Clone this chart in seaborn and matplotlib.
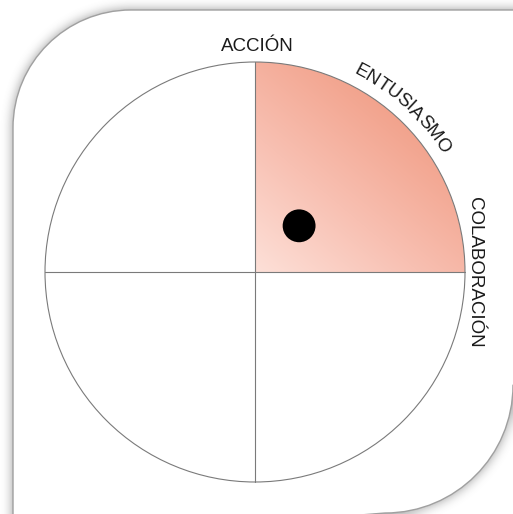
import numpy as np
import matplotlib
matplotlib.use("Agg")
import matplotlib.pyplot as plt
import seaborn as sns
from matplotlib.path import Path
from matplotlib.patches import Circle, Wedge, PathPatch
from matplotlib.colors import LinearSegmentedColormap

sns.set_style("white")
plt.rcParams["font.family"] = ["Liberation Sans", "DejaVu Sans"]

# data
labels = ["ACCIÓN", "ENTUSIASMO", "COLABORACIÓN"]
point_x = [0.21]
point_y = [0.22]
active_quadrant = (0, 90)   # degrees, top-right highlighted

W, H = 513, 514
cx, cy, R = 255, 272, 210   # circle centre / radius in pixels

fig = plt.figure(figsize=(W / 100, H / 100), dpi=100)

# ---- background card with shadow (pixel coords) ----
bg = fig.add_axes([0, 0, 1, 1])
bg.set_xlim(0, W)
bg.set_ylim(H, 0)
bg.axis("off")

def card_path(left=13, top=10, right=513, bottom=513, r1=118, r2=128):
    k = 0.5523
    verts = [(left, bottom + 30), (left, top + r1),
             (left, top + r1 - k * r1), (left + r1 - k * r1, top), (left + r1, top),
             (right + 30, top), (right + 30, bottom - r2),
             (right, bottom - r2),
             (right, bottom - r2 + k * r2), (right - r2 + k * r2, bottom), (right - r2, bottom),
             (left, bottom + 30), (left, bottom + 30)]
    codes = [Path.MOVETO, Path.LINETO,
             Path.CURVE4, Path.CURVE4, Path.CURVE4,
             Path.LINETO, Path.LINETO, Path.LINETO,
             Path.CURVE4, Path.CURVE4, Path.CURVE4,
             Path.LINETO, Path.CLOSEPOLY]
    return Path(verts, codes)

path = card_path()
yy, xx = np.mgrid[0:H, 0:W]
mask = path.contains_points(np.c_[xx.ravel() + 0.5, yy.ravel() + 0.5]).reshape(H, W).astype(float)

def box_blur(a, n):
    pad = n // 2
    for axis in (0, 1):
        a = np.pad(a, [(pad, pad) if i == axis else (0, 0) for i in range(2)], mode="edge")
        c = np.cumsum(a, axis=axis)
        c = np.insert(c, 0, 0, axis=axis)
        if axis == 0:
            a = (c[n:] - c[:-n]) / n
        else:
            a = (c[:, n:] - c[:, :-n]) / n
    return a

shadow = mask
for _ in range(3):
    shadow = box_blur(shadow, 11)
rgba = np.zeros((H, W, 4))
rgba[..., :3] = 0.35
rgba[..., 3] = np.clip(shadow[:H, :W] * 1.3, 0, 1) * 0.5
bg.imshow(rgba, extent=[0, W, H, 0], zorder=0, interpolation="bilinear")
bg.add_patch(PathPatch(path, facecolor="white", edgecolor="#a0a0a0", lw=1.0, zorder=1))

# ---- chart (unit circle coords) ----
ax = fig.add_axes([0, 0, 1, 1])
ax.patch.set_alpha(0)
ax.set_xlim(-cx / R, (W - cx) / R)
ax.set_ylim(-(H - cy) / R, cy / R)
ax.axis("off")

# gradient in the highlighted quadrant
cmap = LinearSegmentedColormap.from_list("salmon", ["#fde0d8", "#f8c0b2", "#f2a38d"])
g = np.linspace(0, 1, 300)
gx, gy = np.meshgrid(g, g)
t = np.clip((0.5 * gx + 0.6 * gy) / 0.78, 0, 1)
im = ax.imshow(t, extent=[0, 1, 0, 1], origin="lower", cmap=cmap, vmin=0, vmax=1, zorder=2)
wedge = Wedge((0, 0), 1, active_quadrant[0], active_quadrant[1], transform=ax.transData)
im.set_clip_path(wedge)

ax.add_patch(Circle((0, 0), 1, fill=False, edgecolor="#7a7a7a", lw=0.8, zorder=3))
ax.plot([-1, 1], [0, 0], color="#7a7a7a", lw=0.8, zorder=3)
ax.plot([0, 0], [-1, 1], color="#7a7a7a", lw=0.8, zorder=3)

sns.scatterplot(x=point_x, y=point_y, s=560, color="black", edgecolor="none", ax=ax, zorder=5)

fs = 13.5
tc = "#1a1a1a"
ax.text(0.01, 1.075, labels[0], ha="center", va="center", fontsize=fs, color=tc)
ax.text(1.045, 0.0, labels[2], ha="center", va="center", fontsize=fs, color=tc, rotation=-90)

# curved label along arc
fig.canvas.draw()
renderer = fig.canvas.get_renderer()
word = labels[1]
probe = ax.text(0, 0, word, fontsize=fs)
prop = probe.get_fontproperties()
probe.remove()
widths = [renderer.get_text_width_height_descent(word[:i], prop, ismath=False)[0] if i else 0.0
          for i in range(len(word) + 1)]
centres = [(widths[i] + widths[i + 1]) / 2 for i in range(len(word))]
total = widths[-1]
r_txt = 226 / R
mid_ang = np.deg2rad(48.0)
for ch, c in zip(word, centres):
    s_px = (c - total / 2)  # pixels along arc
    ang = mid_ang - s_px / 226
    ax.text(r_txt * np.cos(ang), r_txt * np.sin(ang), ch, ha="center", va="center",
            rotation=np.rad2deg(ang) - 90, rotation_mode="anchor", fontsize=fs, color=tc)

fig.savefig("out.png", dpi=100)
